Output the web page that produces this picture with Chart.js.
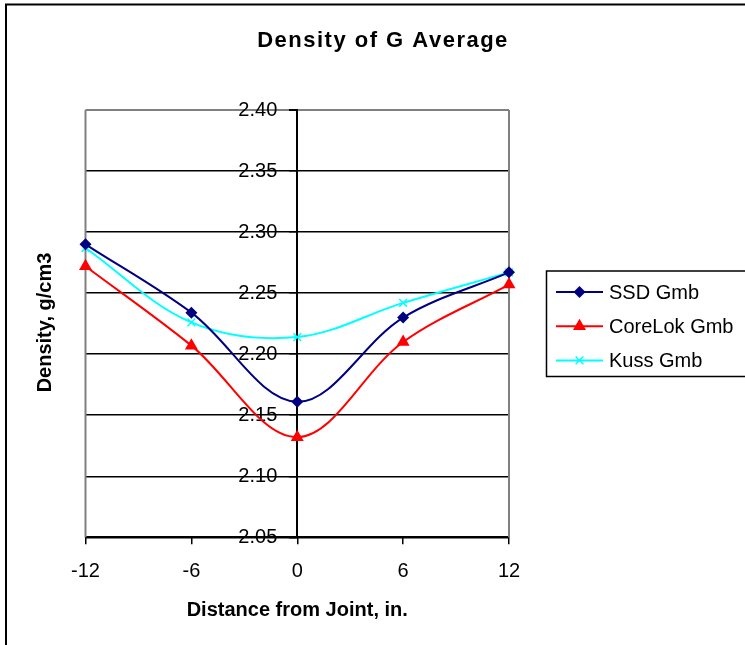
<!DOCTYPE html>
<html>
<head>
<meta charset="utf-8">
<script src="https://cdn.jsdelivr.net/npm/chart.js@4.4.1/dist/chart.umd.min.js"></script>
<style>
  html, body { margin: 0; padding: 0; background: #fff; }
  #wrap { width: 745px; height: 645px; }
</style>
</head>
<body>
<div id="wrap"><canvas id="c" width="745" height="645"></canvas></div>
<script>
// ---- data ----
const chartTitle = 'Density of G Average';
const xTitle = 'Distance from Joint, in.';
const yTitle = 'Density, g/cm3';
const distances = [-12, -6, 0, 6, 12];
const xTicks = [-12, -6, 0, 6, 12];
const yTicks = [2.05, 2.10, 2.15, 2.20, 2.25, 2.30, 2.35, 2.40];
const seriesNames = ['SSD Gmb', 'CoreLok Gmb', 'Kuss Gmb'];
const ssdGmb = [2.290, 2.234, 2.161, 2.230, 2.267];
const coreLokGmb = [2.272, 2.207, 2.132, 2.210, 2.257];
const kussGmb = [2.287, 2.226, 2.214, 2.242, 2.267];

const FONT = "'Liberation Sans', Arial, Helvetica, sans-serif";

function pts(vals) { return distances.map((x, i) => ({x: x, y: vals[i]})); }

function drawMarker(ctx, style, x, y, r, color) {
  ctx.save();
  ctx.fillStyle = color; ctx.strokeStyle = color;
  ctx.beginPath();
  if (style === 'rectRot') {
    ctx.moveTo(x, y - r); ctx.lineTo(x + r, y); ctx.lineTo(x, y + r); ctx.lineTo(x - r, y); ctx.closePath();
    ctx.fill();
  } else if (style === 'triangle') {
    const w = r * Math.sqrt(3) / 2;
    ctx.moveTo(x, y - r); ctx.lineTo(x + w, y + r / 2); ctx.lineTo(x - w, y + r / 2); ctx.closePath();
    ctx.fill();
  } else if (style === 'crossRot') {
    const d = r * Math.SQRT1_2;
    ctx.lineWidth = 1.5;
    ctx.moveTo(x - d, y - d); ctx.lineTo(x + d, y + d);
    ctx.moveTo(x + d, y - d); ctx.lineTo(x - d, y + d);
    ctx.stroke();
  }
  ctx.restore();
}

const decor = {
  id: 'decor',
  beforeDraw(chart) {
    // move the y tick labels left of the tick marks (axis sits at x = 0)
    const s = chart.scales.y;
    try {
      const items = s.getLabelItems();
      items.forEach(it => {
        if (it.options && it.options.translation) {
          it.options.translation[0] -= 20;
          it.options.translation[1] += 0.5;
        }
      });
    } catch (e) {}
  },
  beforeDatasetsDraw(chart) {
    const {ctx, chartArea: a} = chart;
    ctx.save();
    ctx.strokeStyle = '#808080';
    ctx.lineWidth = 2;
    ctx.beginPath();
    ctx.moveTo(a.left, a.bottom); ctx.lineTo(a.left, a.top);
    ctx.moveTo(a.right, a.top); ctx.lineTo(a.right, a.bottom);
    ctx.stroke();
    ctx.restore();
  },
  afterDraw(chart) {
    const {ctx} = chart;
    ctx.save();
    // outer frame (left + top)
    ctx.strokeStyle = '#000';
    ctx.lineWidth = 2;
    ctx.beginPath();
    ctx.moveTo(6, 660); ctx.lineTo(6, 4.5); ctx.lineTo(760, 4.5);
    ctx.stroke();

    // title
    ctx.fillStyle = '#000';
    ctx.font = 'bold 22px ' + FONT;
    ctx.textAlign = 'center';
    ctx.textBaseline = 'middle';
    try { ctx.letterSpacing = '1.5px'; } catch (e) {}
    ctx.fillText(chartTitle, 383, 41);
    try { ctx.letterSpacing = '0px'; } catch (e) {}

    // y title
    ctx.save();
    ctx.translate(45, 322.5);
    ctx.rotate(-Math.PI / 2);
    ctx.font = 'bold 20px ' + FONT;
    ctx.fillText(yTitle, 0, 0);
    ctx.restore();

    // legend
    ctx.strokeStyle = '#000';
    ctx.lineWidth = 1.5;
    ctx.strokeRect(546.5, 271, 260, 105.5);
    ctx.font = '20px ' + FONT;
    ctx.textAlign = 'left';
    chart.data.datasets.forEach((ds, i) => {
      const y = 292 + i * 34.2;
      ctx.strokeStyle = ds.borderColor;
      ctx.lineWidth = 2;
      ctx.beginPath(); ctx.moveTo(556, y); ctx.lineTo(603, y); ctx.stroke();
      drawMarker(ctx, ds.pointStyle, 579.5, y, ds.pointRadius, ds.borderColor);
      ctx.fillStyle = '#000';
      ctx.fillText(ds.label, 609, y + 1);
    });
    ctx.restore();
  }
};

const colors = ['#000080', '#FF0000', '#00FFFF'];
const styles = ['rectRot', 'triangle', 'crossRot'];
const radii = [6, 7.5, 5.5];
const values = [ssdGmb, coreLokGmb, kussGmb];

const datasets = seriesNames.map((name, i) => ({
  label: name,
  data: pts(values[i]),
  borderColor: colors[i],
  backgroundColor: colors[i],
  pointBackgroundColor: colors[i],
  pointBorderColor: colors[i],
  pointStyle: styles[i],
  pointRadius: radii[i],
  pointBorderWidth: i === 2 ? 1.5 : 0,
  pointHoverRadius: radii[i],
  borderWidth: 2,
  tension: 0.35,
  fill: false,
  clip: false
}));

new Chart(document.getElementById('c'), {
  type: 'line',
  data: { datasets: datasets },
  options: {
    responsive: false,
    animation: false,
    devicePixelRatio: 1,
    layout: { padding: { left: 85.5, right: 236, top: 110, bottom: 0 } },
    plugins: {
      legend: { display: false },
      title: { display: false },
      tooltip: { enabled: false }
    },
    scales: {
      x: {
        type: 'linear',
        position: 'bottom',
        min: -12, max: 12,
        afterBuildTicks: (s) => { s.ticks = xTicks.map(v => ({value: v})); },
        afterFit: (s) => { s.height = 645 - 537.3; },
        ticks: {
          color: '#000',
          font: { family: FONT, size: 20 },
          padding: 15,
          maxRotation: 0,
          autoSkip: false,
          callback: (v) => String(v)
        },
        grid: { drawOnChartArea: false, drawTicks: true, tickLength: 7, color: '#000', lineWidth: 1.5 },
        border: { display: true, color: '#000', width: 2 },
        title: {
          display: true,
          text: xTitle,
          color: '#000',
          font: { family: FONT, size: 20, weight: 'bold' },
          padding: { top: 0, bottom: 23 }
        }
      },
      y: {
        type: 'linear',
        position: { x: 0 },
        min: 2.05, max: 2.40,
        afterBuildTicks: (s) => { s.ticks = yTicks.map(v => ({value: v})); },
        ticks: {
          color: '#000',
          font: { family: FONT, size: 20 },
          padding: 13,
          autoSkip: false,
          callback: (v) => Number(v).toFixed(2)
        },
        grid: {
          drawTicks: true,
          tickLength: 7,
          color: (c) => (c.tick && Math.abs(c.tick.value - 2.40) < 1e-6) ? '#808080' : '#000',
          tickColor: '#000',
          lineWidth: (c) => (c.tick && Math.abs(c.tick.value - 2.40) < 1e-6) ? 2 : 1.5
        },
        border: { display: true, color: '#000', width: 2 }
      }
    }
  },
  plugins: [decor]
});
</script>
</body>
</html>
